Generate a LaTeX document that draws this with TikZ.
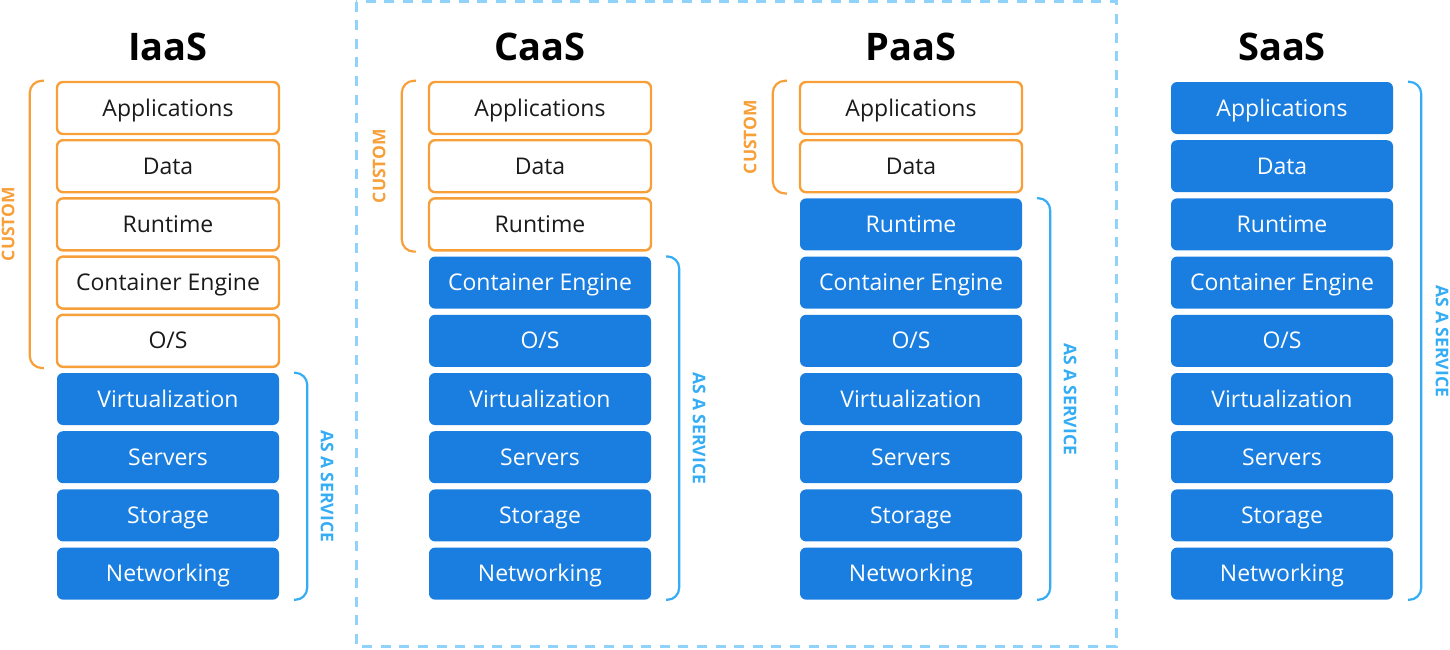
\documentclass[tikz,border=0pt]{standalone}
\usepackage{fontspec}
\setmainfont{Open Sans}
\definecolor{orng}{HTML}{F7A03A}
\definecolor{bfill}{HTML}{1A7EE0}
\definecolor{bbr}{HTML}{35ADF5}
\definecolor{dashblue}{HTML}{8FD3FA}
\definecolor{ink}{HTML}{1A1A1A}
\tikzset{
  layer/.style={minimum width=222pt,minimum height=52pt,rounded corners=6pt,inner sep=0pt,
    text height=16pt,text depth=0pt,font=\fontsize{23}{28}\selectfont},
  custombox/.style={layer,draw=orng,line width=2.4pt,fill=white,text=ink},
  svcbox/.style={layer,fill=bfill,text=white},
  title/.style={font=\fontsize{38}{44}\selectfont\bfseries,text=black},
  custbr/.style={draw=orng,line width=2.2pt,rounded corners=12pt},
  svcbr/.style={draw=bbr,line width=2.2pt,rounded corners=12pt},
  custtxt/.style={text=orng,font=\fontsize{17.5}{20}\selectfont\bfseries,rotate=90,inner sep=0pt},
  svctxt/.style={text=bbr,font=\fontsize{17.5}{20}\selectfont\bfseries,rotate=-90,inner sep=0pt},
  frame/.style={draw=dashblue,line width=3pt,dash pattern=on 10pt off 8.6pt},
}
\begin{document}
\begin{tikzpicture}[x=1pt,y=-1pt]
\useasboundingbox (0,0) rectangle (1450,649);
\draw[frame] (356,1.6) rectangle (1116,646.5);
% titles
\node[title] (tI) at (168,47) {IaaS};
\node[title] (tC) at (540,47) {CaaS};
\node[title] (tP) at (911,47) {PaaS};
\node[title] (tS) at (1282,47) {SaaS};
% IaaS
\foreach \i/\t/\s in {1/Applications/custombox,2/Data/custombox,3/Runtime/custombox,4/Container Engine/custombox,5/O\slash S/custombox,6/Virtualization/svcbox,7/Servers/svcbox,8/Storage/svcbox,9/Networking/svcbox}{
  \node[\s] (I\i) at (168,{108+58.2*(\i-1)}) {\t};}
\foreach \i/\t/\s in {1/Applications/custombox,2/Data/custombox,3/Runtime/custombox,4/Container Engine/svcbox,5/O\slash S/svcbox,6/Virtualization/svcbox,7/Servers/svcbox,8/Storage/svcbox,9/Networking/svcbox}{
  \node[\s] (C\i) at (540,{108+58.2*(\i-1)}) {\t};}
\foreach \i/\t/\s in {1/Applications/custombox,2/Data/custombox,3/Runtime/svcbox,4/Container Engine/svcbox,5/O\slash S/svcbox,6/Virtualization/svcbox,7/Servers/svcbox,8/Storage/svcbox,9/Networking/svcbox}{
  \node[\s] (P\i) at (911,{108+58.2*(\i-1)}) {\t};}
\foreach \i/\t/\s in {1/Applications/svcbox,2/Data/svcbox,3/Runtime/svcbox,4/Container Engine/svcbox,5/O\slash S/svcbox,6/Virtualization/svcbox,7/Servers/svcbox,8/Storage/svcbox,9/Networking/svcbox}{
  \node[\s] (S\i) at (1282,{108+58.2*(\i-1)}) {\t};}
% custom brackets
\draw[custbr] ([xshift=-12pt]I1.north west) -| ([xshift=-26pt]I5.south west) -- ([xshift=-12pt]I5.south west);
\node[custtxt] (cI) at (8,224) {CUSTOM};
\draw[custbr] ([xshift=-12pt]C1.north west) -| ([xshift=-26pt]C3.south west) -- ([xshift=-12pt]C3.south west);
\node[custtxt] (cC) at (379,166) {CUSTOM};
\draw[custbr] ([xshift=-12pt]P1.north west) -| ([xshift=-26pt]P2.south west) -- ([xshift=-12pt]P2.south west);
\node[custtxt] (cP) at (750,137) {CUSTOM};
% service brackets
\draw[svcbr] ([xshift=15pt]I6.north east) -| ([xshift=28pt]I9.south east) -- ([xshift=15pt]I9.south east);
\node[svctxt] (sI) at (327,486) {AS A SERVICE};
\draw[svcbr] ([xshift=15pt]C4.north east) -| ([xshift=28pt]C9.south east) -- ([xshift=15pt]C9.south east);
\node[svctxt] (sC) at (699,428) {AS A SERVICE};
\draw[svcbr] ([xshift=15pt]P3.north east) -| ([xshift=28pt]P9.south east) -- ([xshift=15pt]P9.south east);
\node[svctxt] (sP) at (1070,399) {AS A SERVICE};
\draw[svcbr] ([xshift=15pt]S1.north east) -| ([xshift=28pt]S9.south east) -- ([xshift=15pt]S9.south east);
\node[svctxt] (sS) at (1442,341) {AS A SERVICE};
\end{tikzpicture}
\end{document}
